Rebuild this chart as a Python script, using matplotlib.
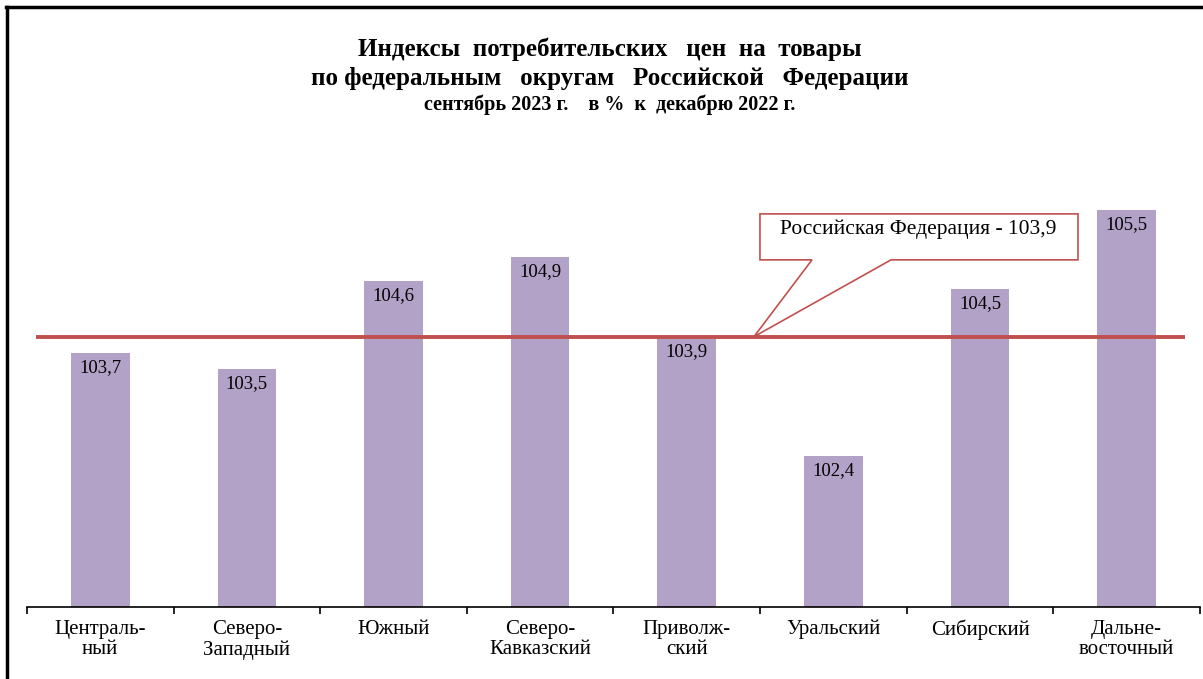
import matplotlib.pyplot as plt
from matplotlib.patches import Polygon
from matplotlib.lines import Line2D
import numpy as np

districts = ['Централь-\nный', 'Северо-\nЗападный', 'Южный', 'Северо-\nКавказский',
             'Приволж-\nский', 'Уральский', 'Сибирский', 'Дальне-\nвосточный']
values = [103.7, 103.5, 104.6, 104.9, 103.9, 102.4, 104.5, 105.5]
rf_value = 103.9
rf_label = 'Российская Федерация - 103,9'

plt.rcParams['font.family'] = ['Liberation Serif', 'DejaVu Serif']

bar_color = '#B3A2C7'
red = '#C0504D'

fig = plt.figure(figsize=(12.03, 6.79), dpi=100)
ax = fig.add_axes([0.0224, 0.106, 0.9751, 0.7025])

x = np.arange(len(values))
ax.bar(x, values, width=0.4, color=bar_color, zorder=2)
ax.set_xlim(-0.5, len(values) - 0.5)
ax.set_ylim(100.5, 106.5)

# value labels inside the top of each bar
for xi, v in zip(x, values):
    ax.text(xi, v - 0.08, f'{v:.1f}'.replace('.', ','), ha='center', va='top',
            fontsize=13.5, zorder=3)

# Russian Federation level
ax.hlines(rf_value, -0.44, 7.4, color=red, linewidth=2.8, zorder=4)

# callout box
callout = Polygon([(4.499, 105.445), (6.668, 105.445), (6.668, 104.867),
                   (5.393, 104.867), (4.458, rf_value), (4.854, 104.867),
                   (4.499, 104.867)], closed=True, facecolor='white',
                  edgecolor=red, linewidth=1.2, zorder=5)
ax.add_patch(callout)
ax.text(5.577, 105.257, rf_label, ha='center', va='center', fontsize=15.5, zorder=6)

# axes styling
for s in ['top', 'right', 'left']:
    ax.spines[s].set_visible(False)
ax.spines['bottom'].set_linewidth(1.2)
ax.set_yticks([])
ax.set_xticks(np.arange(-0.5, len(values), 1))
ax.set_xticklabels([])
ax.set_xticks(x, minor=True)
ax.set_xticklabels(districts, minor=True, fontsize=15, linespacing=1.12)
ax.tick_params(axis='x', which='major', direction='out', length=5, width=1.2)
ax.tick_params(axis='x', which='minor', length=0, pad=9)

# titles
fig.text(0.507, 0.928, 'Индексы  потребительских   цен  на  товары', ha='center', va='center',
         fontsize=18, fontweight='bold')
fig.text(0.507, 0.885, 'по федеральным   округам   Российской   Федерации', ha='center', va='center',
         fontsize=18, fontweight='bold')
fig.text(0.507, 0.846, 'сентябрь 2023 г.    в %  к  декабрю 2022 г.', ha='center', va='center',
         fontsize=14.5, fontweight='bold')

# frame lines (left and top)
fig.add_artist(Line2D([0.0062, 0.0062], [0.0, 0.989], transform=fig.transFigure,
                      color='black', linewidth=2.5))
fig.add_artist(Line2D([0.005, 1.0], [0.989, 0.989], transform=fig.transFigure,
                      color='black', linewidth=2.5))

fig.savefig('out.png', dpi=100)
